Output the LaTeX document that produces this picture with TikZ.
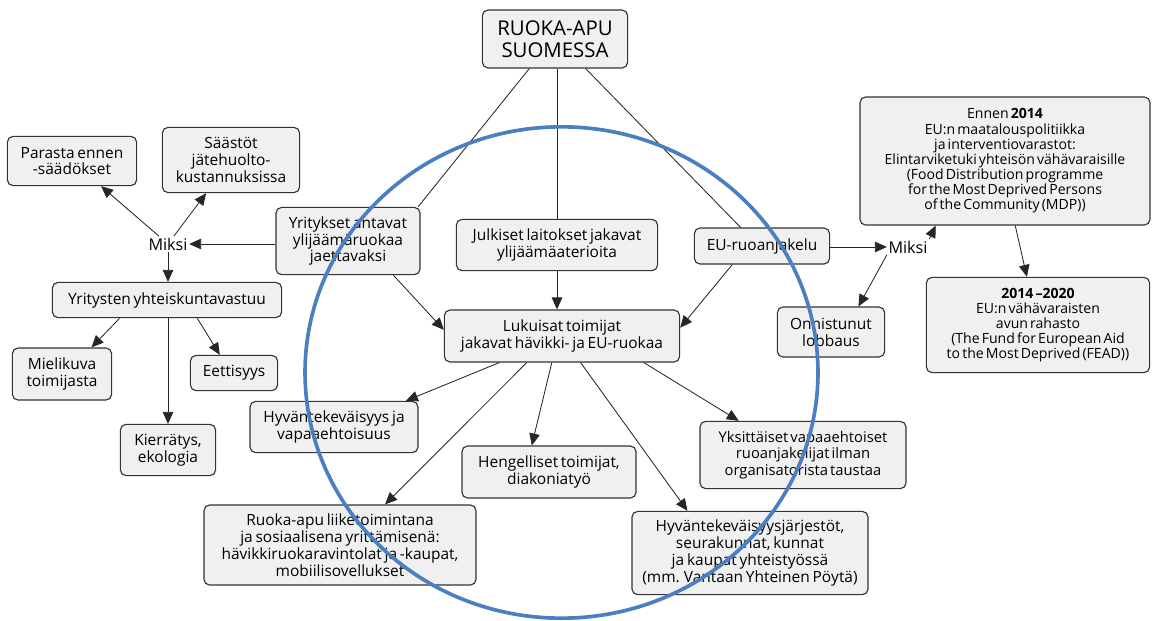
\documentclass[tikz,border=0pt]{standalone}
\usepackage{fontspec}
\setmainfont{Open Sans}
\usetikzlibrary{arrows.meta}
\newcommand{\boxfont}{\fontsize{11}{12}\selectfont\spaceskip=0.18em\relax}
\newcommand{\eufont}{\fontsize{10}{10.8}\selectfont\spaceskip=0.15em\relax}

\begin{document}
\begin{tikzpicture}[
    x=0.025cm, y=-0.025cm,
    box/.style={draw=black!80, line width=0.8pt, rounded corners=4pt, fill=black!6,
        align=center, inner sep=1.5pt, font=\boxfont},
    smallbox/.style={box, font=\eufont},
    rootbox/.style={box, font=\fontsize{14.5}{16}\selectfont},
    why/.style={inner sep=1pt, font=\fontsize{11.5}{12}\selectfont},
    link/.style={draw=black!85, line width=0.6pt},
    arr/.style={link, -{Triangle[length=8.5pt, width=7.5pt]}},
    ring/.style={draw={rgb,255:red,74;green,127;blue,193}, line width=2.6pt}
]
    \useasboundingbox (0,0) rectangle (1162,620);

    % keskus
    \node[rootbox, minimum width=3.63cm, minimum height=1.45cm] (root) at (555,39) {RUOKA-APU\\SUOMESSA};

    % vasen haara: yritykset
    \node[box, minimum width=3.6cm, minimum height=1.68cm] (yrit) at (348,241) {Yritykset antavat\\ylijäämäruokaa\\jaettavaksi};
    \node[why] (miksiL) at (168,244) {Miksi};
    \node[box, minimum width=3.23cm, minimum height=1.23cm] (parasta) at (72,161) {Parasta ennen\\-säädökset};
    \node[box, minimum width=3.43cm, minimum height=1.63cm] (saastot) at (231,160) {Säästöt\\jätehuolto-\\kustannuksissa};
    \node[box, minimum width=5.73cm, minimum height=0.88cm] (yys) at (167,300) {Yritysten yhteiskuntavastuu};
    \node[box, minimum width=2.48cm, minimum height=1.3cm] (mieli) at (62,374) {Mielikuva\\toimijasta};
    \node[box, minimum width=2.18cm, minimum height=0.88cm] (eett) at (234,373) {Eettisyys};
    \node[box, minimum width=2.38cm, minimum height=1.28cm] (kierr) at (168,450) {Kierrätys,\\ekologia};

    % keskihaara
    \node[box, minimum width=5.03cm, minimum height=1.28cm] (julk) at (557,245) {Julkiset laitokset jakavat\\ylijäämäaterioita};
    \node[box, minimum width=5.88cm, minimum height=1.3cm] (luk) at (562,336) {Lukuisat toimijat\\jakavat hävikki- ja EU-ruokaa};

    % oikea haara: EU
    \node[box, minimum width=3.38cm, minimum height=0.9cm] (eu) at (762,246) {EU-ruoanjakelu};
    \node[why] (miksiR) at (908,247) {Miksi};
    \node[smallbox, minimum width=7.25cm, minimum height=3.2cm] (ennen) at (1005,161)
        {Ennen \textbf{2014}\\EU:n maatalouspolitiikka\\ja interventiovarastot:\\Elintarviketuki yhteisön vähävaraisille\\(Food Distribution programme\\for the Most Deprived Persons\\of the Community (MDP))};
    \node[box, minimum width=2.68cm, minimum height=1.25cm] (onn) at (831,332) {Onnistunut\\lobbaus};
    \node[smallbox, minimum width=5.58cm, minimum height=2.38cm] (fead) at (1038,325)
        {\textbf{2014 –2020}\\EU:n vähävaraisten\\avun rahasto\\(The Fund for European Aid\\to the Most Deprived (FEAD))};

    % toimijat
    \node[box, minimum width=4.2cm, minimum height=1.28cm] (hyv) at (334,427) {Hyväntekeväisyys ja\\vapaaehtoisuus};
    \node[box, minimum width=4.35cm, minimum height=1.3cm] (heng) at (549,472) {Hengelliset toimijat,\\diakoniatyö};
    \node[box, font=\eufont\fontsize{10.5}{11.5}\selectfont, minimum width=5.15cm, minimum height=1.68cm] (yks) at (803,455) {Yksittäiset vapaaehtoiset\\ruoanjakelijat ilman\\organisatorista taustaa};
    \node[box, minimum width=6.8cm, minimum height=2cm] (liike) at (340,545) {Ruoka-apu liiketoimintana\\ja sosiaalisena yrittämisenä:\\hävikkiruokaravintolat ja -kaupat,\\mobiilisovellukset};
    \node[box, minimum width=5.9cm, minimum height=2.08cm] (jarj) at (750,553) {Hyväntekeväisyysjärjestöt,\\seurakunnat, kunnat\\ja kaupat yhteistyössä\\(mm. Vantaan Yhteinen Pöytä)};

    % yhteydet
    \draw[link] (root.-131) -- (yrit.26);
    \draw[link] (root.south -| julk.north) -- (julk.north);
    \draw[link] (root.-44) -- (eu.139);

    \draw[arr] (yrit.west |- miksiL) -- (miksiL);
    \draw[arr] (miksiL) -- (parasta);
    \draw[arr] (miksiL) -- (saastot);
    \draw[arr] (miksiL) -- (miksiL |- yys.north);
    \draw[arr] (yys.-159) -- (mieli.42);
    \draw[arr] (yys.south -| kierr.north) -- (kierr.north);
    \draw[arr] (yys.-31) -- (eett.128);

    \draw[arr] (yrit.-37) -- (luk.177);
    \draw[arr] (julk.south) -- (julk.south |- luk.north);
    \draw[arr] (eu.-148) -- (luk.4);

    \draw[arr] (eu.east |- miksiR) -- (miksiR);
    \draw[arr] (miksiR.north east) -- (ennen.-137);
    \draw[arr] (miksiR.south west) -- (onn.43);
    \draw[arr] (ennen.-81) -- (fead.103);

    \draw[arr] (luk.-157) -- (hyv.20);
    \draw[arr] (luk.-143) -- (liike.42);
    \draw[arr] (luk.-111) -- (heng.123);
    \draw[arr] (luk.-55) -- (jarj.146);
    \draw[arr] (luk.-18) -- (yks.152);

    % korostusrengas
    \draw[ring] (561.5,372.5) ellipse [x radius=6.41cm, y radius=6.14cm];
\end{tikzpicture}
\end{document}
